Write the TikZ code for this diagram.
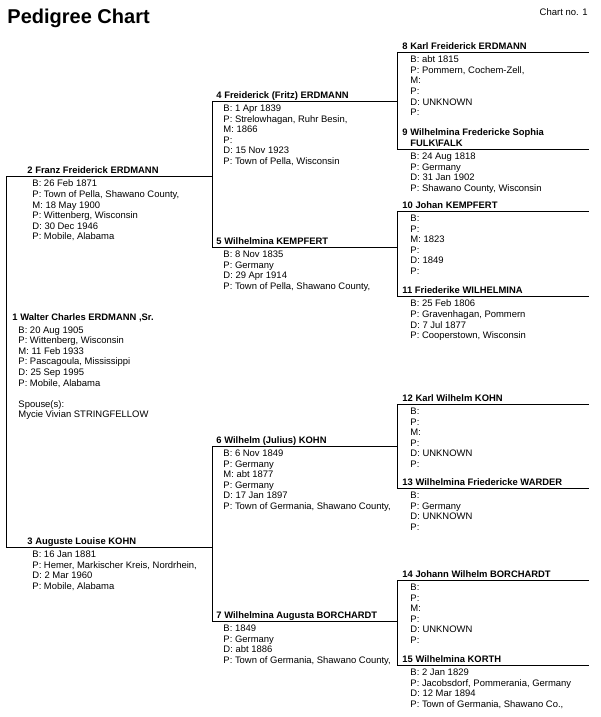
\documentclass[tikz,border=0pt]{standalone}
\usepackage{fontspec}
\setmainfont{Liberation Sans}

\tikzset{
  persname/.style={anchor=base west, inner sep=0pt, font=\bfseries\fontsize{9.4}{10.6}\selectfont},
  persdata/.style={anchor=north west, inner sep=0pt, align=left, font=\fontsize{9.45}{10.6}\selectfont},
}

\begin{document}
\begin{tikzpicture}[x=1pt, y=-1pt, line width=0.9pt]
    \useasboundingbox (0,0) rectangle (600,717);

    % Titel
    \node[anchor=base west, inner sep=0pt, font=\bfseries\fontsize{20}{24}\selectfont] (title) at (7,23.5) {Pedigree Chart};
    \node[anchor=base east, inner sep=0pt, font=\fontsize{9.5}{11}\selectfont] (chartno) at (588,15.5) {Chart no. 1};

    % Anfang der Linien
    \coordinate (p2) at (6,176);
    \coordinate (p3) at (6,547);
    \coordinate (p4) at (212,101);
    \coordinate (p5) at (212,247);
    \coordinate (p6) at (212,446);
    \coordinate (p7) at (212,621);
    \coordinate (p8) at (397,52);
    \coordinate (p9) at (397,149);
    \coordinate (p10) at (397,211);
    \coordinate (p11) at (397,296);
    \coordinate (p12) at (397,404);
    \coordinate (p13) at (397,488);
    \coordinate (p14) at (397,580);
    \coordinate (p15) at (397,665);
    \coordinate (rand) at (589,0);

    % Eltern
    \draw (p2) -- (p3);
    \draw (p2) -- (p2 -| p4);
    \draw (p3) -- (p3 -| p4);

    % Grosseltern
    \draw (p4) -- (p5);
    \draw (p6) -- (p7);
    \draw (p4) -- (p4 -| p8);
    \draw (p5) -- (p5 -| p8);
    \draw (p6) -- (p6 -| p8);
    \draw (p7) -- (p7 -| p8);

    % Urgrosseltern
    \draw (p8) -- (p9);
    \draw (p10) -- (p11);
    \draw (p12) -- (p13);
    \draw (p14) -- (p15);
    \draw (p8) -- (p8 -| rand);
    \draw (p9) -- (p9 -| rand);
    \draw (p10) -- (p10 -| rand);
    \draw (p11) -- (p11 -| rand);
    \draw (p12) -- (p12 -| rand);
    \draw (p13) -- (p13 -| rand);
    \draw (p14) -- (p14 -| rand);
    \draw (p15) -- (p15 -| rand);

    % Person 1
    \node[persname] (h1) at (12,320.5) {1 Walter Charles ERDMANN ,Sr.};
    \node[persdata] (d1) at (18,326) {B: 20 Aug 1905\\P: Wittenberg, Wisconsin\\M: 11 Feb 1933\\P: Pascagoula, Mississippi\\D: 25 Sep 1995\\P: Mobile, Alabama\\ \mbox{}\\Spouse(s):\\Mycie Vivian STRINGFELLOW};

    % Person 2 und 3
    \node[persname] (h2) at (27,173) {2 Franz Freiderick ERDMANN};
    \node[persdata] (d2) at (32,179.5) {B: 26 Feb 1871\\P: Town of Pella, Shawano County,\\M: 18 May 1900\\P: Wittenberg, Wisconsin\\D: 30 Dec 1946\\P: Mobile, Alabama};
    \node[persname] (h3) at (27,544) {3 Auguste Louise KOHN};
    \node[persdata] (d3) at (32,550.5) {B: 16 Jan 1881\\P: Hemer, Markischer Kreis, Nordrhein,\\D: 2 Mar 1960\\P: Mobile, Alabama};

    % Person 4 bis 7
    \node[persname] (h4) at (216,98) {4 Freiderick (Fritz) ERDMANN};
    \node[persdata] (d4) at (223,104.5) {B: 1 Apr 1839\\P: Strelowhagan, Ruhr Besin,\\M: 1866\\P:\\D: 15 Nov 1923\\P: Town of Pella, Wisconsin};
    \node[persname] (h5) at (216,244) {5 Wilhelmina KEMPFERT};
    \node[persdata] (d5) at (223,250.5) {B: 8 Nov 1835\\P: Germany\\D: 29 Apr 1914\\P: Town of Pella, Shawano County,};
    \node[persname] (h6) at (216,443) {6 Wilhelm (Julius) KOHN};
    \node[persdata] (d6) at (223,449.5) {B: 6 Nov 1849\\P: Germany\\M: abt 1877\\P: Germany\\D: 17 Jan 1897\\P: Town of Germania, Shawano County,};
    \node[persname] (h7) at (216,618) {7 Wilhelmina Augusta BORCHARDT};
    \node[persdata] (d7) at (223,624.5) {B: 1849\\P: Germany\\D: abt 1886\\P: Town of Germania, Shawano County,};

    % Person 8 bis 15
    \node[persname] (h8) at (402,49) {8 Karl Freiderick ERDMANN};
    \node[persdata] (d8) at (410,55.5) {B: abt 1815\\P: Pommern, Cochem-Zell,\\M:\\P:\\D: UNKNOWN\\P:};
    \node[persname] (h9) at (402,135.5) {9 Wilhelmina Fredericke Sophia};
    \node[persname] (h9b) at (410,146) {FULK\textbackslash FALK};
    \node[persdata] (d9) at (410,152.5) {B: 24 Aug 1818\\P: Germany\\D: 31 Jan 1902\\P: Shawano County, Wisconsin};
    \node[persname] (h10) at (402,208) {10 Johan KEMPFERT};
    \node[persdata] (d10) at (410,214.5) {B:\\P:\\M: 1823\\P:\\D: 1849\\P:};
    \node[persname] (h11) at (402,293) {11 Friederike WILHELMINA};
    \node[persdata] (d11) at (410,299.5) {B: 25 Feb 1806\\P: Gravenhagan, Pommern\\D: 7 Jul 1877\\P: Cooperstown, Wisconsin};
    \node[persname] (h12) at (402,401) {12 Karl Wilhelm KOHN};
    \node[persdata] (d12) at (410,407.5) {B:\\P:\\M:\\P:\\D: UNKNOWN\\P:};
    \node[persname] (h13) at (402,485) {13 Wilhelmina Friedericke WARDER};
    \node[persdata] (d13) at (410,491.5) {B:\\P: Germany\\D: UNKNOWN\\P:};
    \node[persname] (h14) at (402,577) {14 Johann Wilhelm BORCHARDT};
    \node[persdata] (d14) at (410,583.5) {B:\\P:\\M:\\P:\\D: UNKNOWN\\P:};
    \node[persname] (h15) at (402,662) {15 Wilhelmina KORTH};
    \node[persdata] (d15) at (410,668.5) {B: 2 Jan 1829\\P: Jacobsdorf, Pommerania, Germany\\D: 12 Mar 1894\\P: Town of Germania, Shawano Co.,};
\end{tikzpicture}
\end{document}
